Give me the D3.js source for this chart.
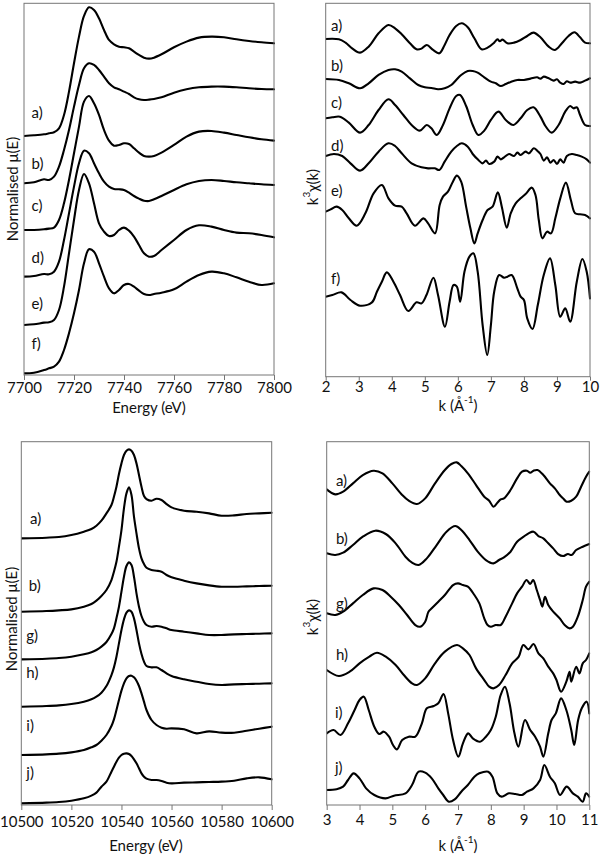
<!DOCTYPE html>
<html><head><meta charset="utf-8">
<script src="https://cdn.jsdelivr.net/npm/d3@7"></script>
<style>body{margin:0;background:#fff}svg text{font-family:Lato,"Open Sans",sans-serif;fill:#111}</style>
</head><body>
<svg id="c" width="600" height="861"></svg>
<script>
// ---------- Panel 1: Cu K-edge XANES (offset, arbitrary units) ----------
const cuEnergy = [7700,7704,7708,7710,7712,7714,7716,7718,7720,7722,7724,7726,7728,7730,7732,7734,7736,7738,7740,7742,7744,7746,7748,7750,7752,7755,7760,7765,7770,7775,7780,7785,7790,7795,7800];
const cuXanesA = [717,719,722,725,728,740,780,850,935,1015,1077,1103,1095,1070,1035,1005,992,985,983,980,970,960,952,949,952,962,983,1000,1012,1015,1013,1007,1002,998,995];
const cuXanesB = [575,578,587,585,595,625,675,735,805,870,920,935,930,915,895,875,863,857,850,843,833,827,825,826,828,833,847,857,863,865,865,863,860,858,857];
const cuXanesC = [435,435,437,439,442,465,515,585,665,745,820,837,815,780,735,703,688,690,695,693,680,667,657,655,657,667,690,715,730,732,727,720,713,707,703];
const cuXanesD = [295,297,303,302,310,340,405,485,565,635,673,665,635,605,580,565,558,557,555,547,537,529,523,522,527,537,555,572,582,585,582,578,575,572,570];
const cuXanesE = [150,152,157,158,165,195,265,365,465,555,603,575,515,455,430,417,420,435,442,433,415,390,365,355,357,375,405,435,449,445,435,427,425,420,413];
const cuXanesF = [5,7,15,20,25,40,75,125,185,255,335,377,370,335,295,260,245,255,270,273,265,253,243,240,243,247,257,280,300,310,305,293,280,270,275];
const cuXanesLabels = ["a)","b)","c)","d)","e)","f)"];
const cuXanesLabelPos = [[7703,790],[7703,635],[7703,510],[7703,355],[7703,215],[7703,95]];
const cuEnergyTicks = [7700,7720,7740,7760,7780,7800];

// ---------- Panel 2: Cu k^3 chi(k) ----------
const cuExafsA = [[2.0,1013],[2.4,1012],[2.6,1002],[2.8,985],[3.04,972],[3.3,990],[3.6,1030],[3.9,1055],[4.1,1045],[4.3,1027],[4.55,1000],[4.75,982],[4.9,984],[5.06,995],[5.25,980],[5.44,970],[5.6,995],[5.75,1025],[5.95,1052],[6.12,1060],[6.3,1048],[6.5,1015],[6.72,982],[6.9,987],[7.1,1002],[7.2,1012],[7.27,1006],[7.35,1011],[7.5,1000],[7.7,1002],[7.9,1010],[8.1,1022],[8.29,1032],[8.5,1018],[8.75,990],[8.94,980],[9.15,1000],[9.35,1022],[9.53,1033],[9.7,1018],[9.85,1002],[10.0,1000]];
const cuExafsB = [[2.0,893],[2.4,890],[2.7,880],[3.04,865],[3.3,880],[3.6,905],[3.9,920],[4.1,922],[4.3,915],[4.55,895],[4.8,875],[5.0,868],[5.2,866],[5.4,862],[5.6,865],[5.8,875],[5.95,890],[6.1,905],[6.3,917],[6.45,917],[6.6,912],[6.8,898],[7.0,885],[7.15,880],[7.3,872],[7.45,878],[7.6,884],[7.8,890],[8.0,890],[8.2,894],[8.4,898],[8.5,894],[8.6,900],[8.75,895],[8.9,888],[9.0,892],[9.1,882],[9.2,878],[9.3,886],[9.4,882],[9.55,885],[9.7,882],[9.85,888],[10.0,895]];
const cuExafsC = [[2.0,775],[2.2,778],[2.43,780],[2.7,762],[3.04,732],[3.3,755],[3.6,800],[3.9,832],[4.1,815],[4.35,785],[4.6,755],[4.85,738],[5.06,755],[5.2,745],[5.36,725],[5.55,755],[5.75,805],[5.95,842],[6.07,845],[6.25,812],[6.45,755],[6.62,725],[6.8,738],[7.0,770],[7.23,795],[7.45,770],[7.68,755],[7.9,775],[8.1,800],[8.29,808],[8.5,780],[8.65,752],[8.84,732],[9.05,755],[9.25,795],[9.4,812],[9.5,805],[9.6,808],[9.7,785],[9.85,755],[10.0,752]];
const cuExafsD = [[2.0,662],[2.25,668],[2.5,662],[2.75,640],[3.04,618],[3.3,640],[3.6,675],[3.9,700],[4.1,692],[4.3,670],[4.6,640],[4.9,628],[5.1,625],[5.3,625],[5.44,620],[5.6,645],[5.8,675],[5.97,692],[6.12,700],[6.3,690],[6.45,668],[6.6,652],[6.75,640],[6.85,648],[6.95,638],[7.1,645],[7.2,660],[7.3,652],[7.4,658],[7.55,668],[7.7,662],[7.8,672],[7.9,665],[8.05,675],[8.15,670],[8.3,685],[8.4,678],[8.5,668],[8.6,648],[8.7,658],[8.8,642],[8.9,650],[9.0,638],[9.1,652],[9.2,642],[9.3,662],[9.45,668],[9.6,665],[9.75,660],[9.9,652],[10.0,642]];
const cuExafsE = [[2.0,495],[2.15,502],[2.33,510],[2.5,500],[2.7,475],[2.94,453],[3.2,490],[3.45,550],[3.7,575],[3.9,535],[4.1,513],[4.3,510],[4.45,490],[4.7,453],[4.96,475],[5.1,460],[5.31,430],[5.45,515],[5.55,540],[5.7,555],[5.85,585],[5.97,603],[6.1,585],[6.25,510],[6.38,445],[6.5,400],[6.6,430],[6.75,470],[6.9,500],[7.05,510],[7.21,553],[7.33,510],[7.48,447],[7.6,490],[7.75,520],[7.9,535],[8.05,548],[8.24,567],[8.35,545],[8.45,470],[8.56,415],[8.7,435],[8.82,430],[8.95,475],[9.1,535],[9.27,582],[9.42,530],[9.55,490],[9.7,487],[9.85,485],[10.0,475]];
const cuExafsF = [[2.0,240],[2.2,245],[2.48,253],[2.75,230],[3.04,213],[3.4,223],[3.55,255],[3.7,285],[3.85,313],[4.05,285],[4.25,245],[4.5,197],[4.75,223],[4.9,220],[5.05,245],[5.26,297],[5.4,245],[5.61,150],[5.75,225],[5.87,275],[5.97,270],[6.07,225],[6.2,315],[6.35,360],[6.47,370],[6.6,315],[6.75,155],[6.89,65],[7.0,155],[7.1,255],[7.25,305],[7.4,297],[7.5,300],[7.63,305],[7.8,265],[7.9,240],[8.0,230],[8.1,175],[8.26,143],[8.42,215],[8.6,305],[8.79,355],[8.95,275],[9.1,180],[9.25,205],[9.4,165],[9.6,285],[9.77,353],[9.9,315],[10.0,235]];
const cuExafsLabels = ["a)","b)","c)","d)","e)","f)"];
const cuExafsLabelPos = [[2.16,1055],[2.16,935],[2.16,824],[2.16,695],[2.16,560],[2.16,296]];
const cuKTicks = [2,3,4,5,6,7,8,9,10];

// ---------- Panel 3: second edge XANES ----------
const wEnergy = [10500,10510,10515,10520,10525,10528,10530,10532,10534,10536,10537,10538,10539,10540,10541,10542,10543,10544,10545,10546,10547,10548,10549,10550,10552,10554,10556,10558,10560,10565,10570,10575,10580,10585,10590,10595,10600];
const wXanesA = [800,802,804,810,820,828,838,853,875,900,925,955,993,1025,1050,1063,1067,1063,1050,1025,990,955,927,918,913,919,915,903,893,883,880,875,868,869,873,875,877];
const wXanesB = [580,582,584,587,595,603,613,627,645,675,700,730,775,825,890,935,953,930,865,815,770,740,723,712,705,703,700,690,683,673,665,659,655,655,656,657,658];
const wXanesG = [437,439,441,445,452,458,465,475,489,513,530,560,595,640,685,717,728,720,685,635,595,567,550,540,535,537,535,530,525,520,515,510,510,512,513,514,515];
const wXanesH = [295,297,299,303,310,317,325,337,357,390,413,445,485,525,557,577,584,580,560,525,485,453,430,417,413,413,405,395,387,377,370,363,360,362,363,364,365];
const wXanesI = [150,152,154,158,165,173,180,193,210,237,257,285,315,343,365,380,387,388,383,373,357,335,310,285,255,240,232,229,230,227,215,221,217,217,223,229,235];
const wXanesJ = [5,7,9,13,20,28,37,55,70,100,115,130,142,150,154,155,153,147,137,125,110,95,85,79,75,75,72,67,65,67,68,69,70,73,80,83,77];
const wXanesLabels = ["a)","b)","g)","h)","i)","j)"];
const wXanesLabelPos = [[10503.5,860],[10503,660],[10502,510],[10502,400],[10502,240],[10502,100]];
const wEnergyTicks = [10500,10520,10540,10560,10580,10600];

// ---------- Panel 4: k^3 chi(k) ----------
const wExafsA = [[3.0,947],[3.26,932],[3.5,940],[3.8,965],[4.1,990],[4.43,1003],[4.7,995],[5.0,965],[5.3,930],[5.5,913],[5.75,903],[6.0,920],[6.3,965],[6.6,1005],[6.8,1023],[6.96,1028],[7.1,1017],[7.3,995],[7.55,960],[7.8,925],[7.95,913],[8.08,895],[8.2,907],[8.3,917],[8.4,920],[8.6,945],[8.8,980],[8.95,1000],[9.1,1003],[9.2,997],[9.3,1003],[9.42,1005],[9.6,990],[9.8,965],[9.95,950],[10.1,930],[10.2,920],[10.31,910],[10.45,913],[10.6,925],[10.75,955],[10.9,985],[11.0,1000]];
const wExafsB = [[3.0,755],[3.26,750],[3.5,757],[3.8,780],[4.1,805],[4.48,823],[4.8,813],[5.1,785],[5.4,745],[5.6,727],[5.8,720],[6.05,740],[6.35,780],[6.65,820],[6.92,837],[7.1,825],[7.35,795],[7.6,760],[7.85,735],[8.08,725],[8.25,735],[8.4,743],[8.6,760],[8.8,790],[9.0,805],[9.15,815],[9.3,820],[9.45,807],[9.6,800],[9.75,785],[9.9,770],[10.05,753],[10.2,747],[10.35,753],[10.46,750],[10.6,765],[10.8,775],[11.0,783]];
const wExafsG = [[3.0,575],[3.26,570],[3.5,580],[3.8,605],[4.1,630],[4.43,650],[4.7,645],[4.95,625],[5.2,600],[5.45,570],[5.7,540],[5.85,535],[6.0,550],[6.1,580],[6.2,590],[6.4,610],[6.6,630],[6.85,660],[7.0,665],[7.15,660],[7.3,655],[7.5,630],[7.65,605],[7.8,560],[7.9,540],[8.0,535],[8.15,540],[8.3,540],[8.45,565],[8.65,605],[8.8,635],[8.95,655],[9.09,675],[9.2,663],[9.29,675],[9.4,645],[9.5,615],[9.57,595],[9.65,625],[9.75,600],[9.9,580],[10.1,560],[10.25,540],[10.4,530],[10.5,535],[10.65,565],[10.8,615],[10.9,655],[11.0,670]];
const wExafsH = [[3.0,405],[3.37,387],[3.7,400],[4.0,425],[4.3,445],[4.53,457],[4.8,445],[5.1,420],[5.35,390],[5.6,365],[5.75,360],[6.0,380],[6.3,425],[6.6,460],[6.97,480],[7.15,470],[7.35,450],[7.55,410],[7.8,375],[7.95,355],[8.08,350],[8.25,360],[8.45,390],[8.65,425],[8.85,445],[8.99,480],[9.15,467],[9.3,483],[9.45,455],[9.6,440],[9.75,415],[9.9,395],[10.0,375],[10.14,340],[10.3,370],[10.4,400],[10.45,370],[10.6,415],[10.7,395],[10.8,425],[10.9,435],[11.0,455]];
const wExafsI = [[3.0,215],[3.21,225],[3.42,210],[3.65,245],[3.85,285],[4.0,315],[4.13,325],[4.28,285],[4.45,235],[4.6,213],[4.74,220],[4.9,205],[5.02,180],[5.14,167],[5.3,195],[5.5,205],[5.7,205],[5.9,245],[6.05,290],[6.26,297],[6.4,305],[6.56,333],[6.7,275],[6.85,195],[7.01,145],[7.15,185],[7.31,215],[7.45,200],[7.67,190],[7.85,205],[8.0,225],[8.15,265],[8.3,330],[8.43,355],[8.57,305],[8.72,215],[8.84,175],[9.04,255],[9.2,225],[9.35,205],[9.5,175],[9.6,145],[9.75,215],[9.85,255],[9.98,275],[10.14,320],[10.3,285],[10.45,225],[10.54,180],[10.66,255],[10.77,290],[10.92,310],[11.0,275]];
const wExafsJ = [[3.0,45],[3.3,47],[3.5,55],[3.65,75],[3.82,95],[4.0,80],[4.2,50],[4.45,30],[4.79,20],[5.05,28],[5.4,35],[5.6,60],[5.8,100],[6.0,97],[6.2,80],[6.4,50],[6.55,30],[6.72,10],[6.9,17],[7.1,40],[7.3,60],[7.5,85],[7.65,95],[7.92,100],[8.05,85],[8.2,35],[8.33,25],[8.55,35],[8.75,33],[8.95,30],[9.1,40],[9.3,50],[9.5,75],[9.63,120],[9.8,85],[9.95,65],[10.11,30],[10.31,55],[10.5,35],[10.65,25],[10.8,10],[10.9,35],[11.0,25]];
const wExafsLabels = ["a)","b)","g)","h)","i)","j)"];
const wExafsLabelPos = [[3.28,975],[3.28,801],[3.28,606],[3.28,453],[3.25,280],[3.25,114]];
const wKTicks = [3,4,5,6,7,8,9,10,11];

// ---------- drawing ----------
const svg = d3.select("#c");
const zip = (xs, ys) => xs.map((x,i)=>[x, ys[i]]);
const FS = "15px";

const panels = [
  {box:{l:24,r:274,t:3.3,b:375}, xd:[7700,7800], yd:[0,1115], ticks:cuEnergyTicks, tsize:5, tpad:2,
   series:[cuXanesA,cuXanesB,cuXanesC,cuXanesD,cuXanesE,cuXanesF].map(v=>zip(cuEnergy,v)),
   labels:cuXanesLabels, lpos:cuXanesLabelPos,
   xt:{x:149,y:407,parts:[["Energy (eV)"]]}, yt:{x:12,y:189,parts:[["Normalised μ(E)"]]}},
  {box:{l:325.7,r:590,t:3.3,b:376.7}, xd:[2,10], yd:[0,1120], ticks:cuKTicks, tsize:4, tpad:1,
   series:[cuExafsA,cuExafsB,cuExafsC,cuExafsD,cuExafsE,cuExafsF],
   labels:cuExafsLabels, lpos:cuExafsLabelPos,
   xt:{x:458,y:405,parts:[["k (Å"],["-1",true],[")"]]}, yt:{x:312,y:187,parts:[["k"],["3",true],["χ(k)"]]}},
  {box:{l:21.3,r:271.7,t:441.7,b:805}, xd:[10500,10600], yd:[0,1090], ticks:wEnergyTicks, tsize:5, tpad:6,
   series:[wXanesA,wXanesB,wXanesG,wXanesH,wXanesI,wXanesJ].map(v=>zip(wEnergy,v)),
   labels:wXanesLabels, lpos:wXanesLabelPos,
   xt:{x:146,y:845,parts:[["Energy (eV)"]]}, yt:{x:11,y:619,parts:[["Normalised μ(E)"]]}},
  {box:{l:326.7,r:589.3,t:441.7,b:805}, xd:[3,11], yd:[0,1090], ticks:wKTicks, tsize:5, tpad:4,
   series:[wExafsA,wExafsB,wExafsG,wExafsH,wExafsI,wExafsJ],
   labels:wExafsLabels, lpos:wExafsLabelPos,
   xt:{x:458,y:845,parts:[["k (Å"],["-1",true],[")"]]}, yt:{x:312,y:617,parts:[["k"],["3",true],["χ(k)"]]}}
];

function addParts(t, parts){
  parts.forEach(([s,sup])=>{
    const ts = t.append("tspan").text(s);
    if(sup) ts.attr("baseline-shift","super").attr("font-size","10px");
  });
}

panels.forEach(p=>{
  const x = d3.scaleLinear().domain(p.xd).range([p.box.l,p.box.r]);
  const y = d3.scaleLinear().domain(p.yd).range([p.box.b,p.box.t]);
  const g = svg.append("g");
  const clipId = "clip"+Math.round(p.box.l)+"_"+Math.round(p.box.t);
  g.append("clipPath").attr("id",clipId).append("rect")
    .attr("x",p.box.l).attr("y",p.box.t-2).attr("width",p.box.r-p.box.l+1).attr("height",p.box.b-p.box.t+3);
  const line = d3.line().x(d=>x(d[0])).y(d=>y(d[1])).curve(d3.curveCatmullRom.alpha(0.5));
  g.append("g").attr("clip-path",`url(#${clipId})`).selectAll("path").data(p.series).join("path")
    .attr("d",line).attr("fill","none").attr("stroke","#000").attr("stroke-width",2.1)
    .attr("stroke-linejoin","round").attr("stroke-linecap","round");
  g.append("rect").attr("x",p.box.l).attr("y",p.box.t).attr("width",p.box.r-p.box.l).attr("height",p.box.b-p.box.t)
    .attr("fill","none").attr("stroke","#767676").attr("stroke-width",1);
  const ax = g.append("g").attr("transform",`translate(0,${p.box.b})`)
    .call(d3.axisBottom(x).tickValues(p.ticks).tickFormat(d3.format("d")).tickSizeInner(p.tsize).tickSizeOuter(0).tickPadding(p.tpad));
  ax.select(".domain").remove();
  ax.selectAll("line").attr("stroke","#767676");
  ax.selectAll("text").attr("font-size",FS).attr("fill","#111").style("font-family","Lato, 'Open Sans', sans-serif");
  g.selectAll("text.lbl").data(p.labels).join("text").attr("class","lbl")
    .attr("x",(d,i)=>x(p.lpos[i][0])).attr("y",(d,i)=>y(p.lpos[i][1]))
    .attr("dominant-baseline","central").attr("font-size",FS).text(d=>d);
  const xt = g.append("text").attr("x",p.xt.x).attr("y",p.xt.y).attr("text-anchor","middle")
    .attr("dominant-baseline","central").attr("font-size",FS);
  addParts(xt,p.xt.parts);
  const yt = g.append("text").attr("transform",`translate(${p.yt.x},${p.yt.y}) rotate(-90)`)
    .attr("text-anchor","middle").attr("dominant-baseline","central").attr("font-size",FS);
  addParts(yt,p.yt.parts);
});
</script>
</body></html>
